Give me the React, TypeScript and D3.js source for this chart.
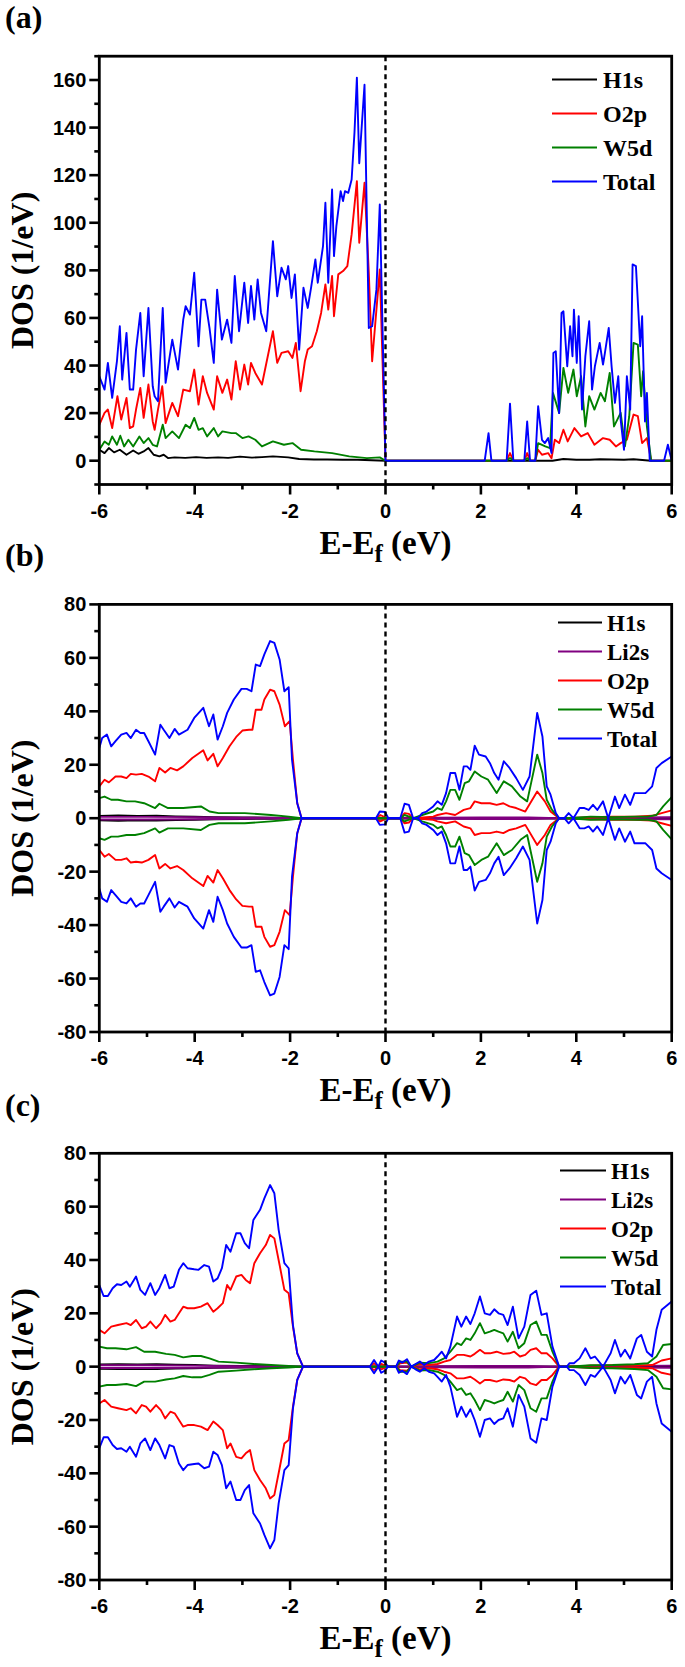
import React from 'react';
import * as d3 from 'd3';

type Pt = [number, number];

// ---------- Panel (a) data (E-Ef in eV, DOS in 1/eV) ----------
const A_H1s: Pt[] = [
  [-6.0, 4.6], [-5.89, 3.2], [-5.8, 5.3], [-5.69, 3.5], [-5.57, 4.6], [-5.43, 2.5], [-5.29, 4.3], [-5.18, 2.9],
  [-5.07, 3.9], [-4.97, 5.3], [-4.86, 2.5], [-4.74, 1.8], [-4.65, 2.5], [-4.56, 1.1], [-4.42, 1.4], [-4.2, 1.2],
  [-3.97, 1.5], [-3.75, 1.2], [-3.51, 1.4], [-3.3, 1.2], [-3.05, 1.7], [-2.8, 1.3], [-2.59, 1.5], [-2.36, 1.8],
  [-2.04, 1.4], [-1.81, 0.7], [-1.5, 0.5], [-1.22, 0.5], [-0.9, 0.4], [-0.58, 0.4], [0, 0],
  [3.5, 0], [3.73, 0.7], [4.0, 0.4], [4.28, 0.4], [4.5, 0.6], [4.74, 0.5], [5.0, 0.4], [5.2, 0.6], [5.57, 0], [6, 0],
];
const A_O2p: Pt[] = [
  [-6.0, 15.1], [-5.89, 20.1], [-5.82, 21.5], [-5.73, 13.7], [-5.62, 27.1], [-5.54, 17.3], [-5.43, 26.4], [-5.36, 13.7],
  [-5.29, 14.4], [-5.23, 21.5], [-5.14, 30.6], [-5.07, 18.0], [-4.97, 32.0], [-4.88, 16.5], [-4.84, 13.0], [-4.77, 21.5],
  [-4.68, 31.3], [-4.61, 15.8], [-4.47, 24.3], [-4.35, 18.7], [-4.24, 29.9], [-4.1, 29.2], [-4.01, 38.3], [-3.92, 23.6],
  [-3.83, 35.5], [-3.74, 28.5], [-3.6, 21.5], [-3.53, 35.5], [-3.42, 28.5], [-3.32, 34.1], [-3.23, 25.7], [-3.14, 41.8],
  [-3.05, 29.9], [-2.96, 40.4], [-2.88, 32.0], [-2.82, 41.1], [-2.73, 36.9], [-2.59, 32.0], [-2.36, 54.4], [-2.27, 41.1],
  [-2.18, 45.3], [-2.04, 46.0], [-1.95, 43.2], [-1.88, 49.5], [-1.78, 29.2], [-1.69, 41.8], [-1.63, 46.7], [-1.54, 48.1],
  [-1.44, 54.4], [-1.35, 62.1], [-1.26, 74.1], [-1.2, 63.5], [-1.12, 77.6], [-1.08, 60.7], [-0.99, 78.3], [-0.89, 79.7],
  [-0.8, 81.8], [-0.71, 95.1], [-0.6, 117.5], [-0.55, 91.6], [-0.44, 116.8], [-0.35, 79.0], [-0.28, 41.8], [-0.12, 80.4],
  [0, 0], [2.54, 0], [2.61, 3.2], [2.68, 0], [2.91, 0], [2.97, 3.2], [3.03, 0], [3.14, 0], [3.2, 4.6], [3.28, 2.5],
  [3.41, 3.2], [3.48, 1.0], [3.55, 8.8], [3.64, 7.4], [3.73, 13.0], [3.82, 8.1], [3.96, 13.7], [4.1, 10.2], [4.24, 11.6],
  [4.38, 6.7], [4.56, 9.5], [4.7, 8.8], [4.83, 6.0], [4.93, 7.4], [5.06, 8.8], [5.2, 19.4], [5.29, 18.7], [5.38, 7.4],
  [5.48, 9.5], [5.57, 0], [6, 0],
];
const A_W5d: Pt[] = [
  [-6.0, 4.6], [-5.89, 8.1], [-5.8, 6.7], [-5.73, 10.2], [-5.63, 6.7], [-5.56, 10.5], [-5.48, 6.0], [-5.39, 8.8],
  [-5.29, 6.0], [-5.16, 10.2], [-5.07, 7.4], [-4.97, 9.5], [-4.88, 6.7], [-4.79, 6.0], [-4.67, 15.1], [-4.61, 9.5],
  [-4.47, 12.3], [-4.33, 9.5], [-4.19, 15.1], [-4.1, 13.7], [-4.01, 18.0], [-3.92, 13.0], [-3.83, 13.7], [-3.74, 10.2],
  [-3.6, 13.7], [-3.51, 10.2], [-3.42, 12.3], [-3.23, 11.6], [-3.14, 11.6], [-3.0, 9.5], [-2.87, 10.2], [-2.73, 8.8],
  [-2.59, 6.0], [-2.36, 8.1], [-2.13, 6.7], [-1.95, 7.4], [-1.77, 4.6], [-1.49, 3.9], [-1.12, 3.2], [-0.76, 1.8],
  [-0.39, 1.1], [-0.12, 1.4], [0, 0], [2.54, 0], [2.61, 1.1], [2.68, 0], [2.91, 0], [2.97, 1.1], [3.03, 0], [3.14, 0],
  [3.2, 7.4], [3.35, 6.0], [3.45, 5.3], [3.51, 28.5], [3.64, 20.1], [3.73, 39.0], [3.83, 28.5], [3.94, 38.3],
  [4.01, 27.1], [4.1, 35.5], [4.19, 14.4], [4.27, 27.1], [4.38, 21.5], [4.51, 28.5], [4.6, 25.0], [4.7, 36.9],
  [4.79, 14.4], [4.93, 20.1], [5.02, 6.0], [5.11, 18.7], [5.2, 49.5], [5.29, 48.8], [5.36, 27.1], [5.4, 37.6],
  [5.48, 14.4], [5.57, 0], [6, 0],
];
const A_Total: Pt[] = [
  [-6.0, 35.5], [-5.89, 29.9], [-5.82, 41.1], [-5.73, 26.4], [-5.63, 41.8], [-5.57, 56.5], [-5.52, 34.1], [-5.43, 53.7],
  [-5.36, 29.9], [-5.29, 29.9], [-5.23, 46.7], [-5.14, 62.1], [-5.07, 35.5], [-4.97, 64.2], [-4.88, 31.3], [-4.84, 27.1],
  [-4.77, 25.0], [-4.67, 64.2], [-4.61, 32.7], [-4.47, 50.9], [-4.35, 38.3], [-4.24, 59.3], [-4.19, 64.9], [-4.1, 61.4],
  [-4.01, 79.0], [-3.92, 48.1], [-3.86, 67.7], [-3.78, 67.7], [-3.69, 55.8], [-3.6, 41.1], [-3.53, 71.9], [-3.43, 50.9],
  [-3.32, 59.3], [-3.23, 49.5], [-3.16, 77.6], [-3.07, 54.4], [-2.96, 74.8], [-2.88, 57.9], [-2.82, 73.4], [-2.75, 59.3],
  [-2.68, 76.2], [-2.61, 62.1], [-2.5, 54.4], [-2.36, 92.3], [-2.27, 69.1], [-2.18, 81.1], [-2.09, 76.2], [-2.04, 81.8],
  [-1.97, 68.4], [-1.9, 78.3], [-1.81, 46.7], [-1.72, 72.7], [-1.63, 64.2], [-1.56, 72.7], [-1.47, 84.6], [-1.42, 74.8],
  [-1.31, 90.2], [-1.26, 108.4], [-1.2, 74.8], [-1.12, 114.0], [-1.08, 86.0], [-1.03, 98.6], [-0.94, 113.3],
  [-0.89, 109.1], [-0.85, 113.3], [-0.78, 112.6], [-0.71, 118.2], [-0.65, 138], [-0.6, 161], [-0.55, 125],
  [-0.44, 158], [-0.35, 55.8], [-0.28, 56.5], [-0.19, 72], [-0.12, 107.7], [0, 0],
  [2.08, 0], [2.16, 11.6], [2.22, 0], [2.54, 0], [2.61, 24], [2.68, 0], [2.91, 0], [2.97, 16.5], [3.03, 0], [3.14, 0],
  [3.2, 22.9], [3.28, 8.8], [3.34, 7.4], [3.41, 9.5], [3.48, 3.2], [3.52, 45.3], [3.57, 46.0], [3.64, 20],
  [3.69, 62.1], [3.73, 62.8], [3.81, 39.7], [3.87, 56.5], [3.92, 43.9], [3.95, 63.5], [4.01, 41.1], [4.05, 60.7],
  [4.12, 21.5], [4.19, 43.9], [4.27, 58.6], [4.33, 29.9], [4.39, 39.7], [4.49, 49.5], [4.56, 40.4], [4.6, 45.3],
  [4.68, 55.8], [4.74, 39.7], [4.81, 24.3], [4.88, 35.5], [4.93, 17.3], [5.0, 4.6], [5.06, 35.5], [5.13, 21.5],
  [5.18, 82.5], [5.25, 81.8], [5.34, 48.1], [5.38, 60.7], [5.44, 16.5], [5.48, 28.5], [5.54, 0], [5.84, 0],
  [5.92, 6.7], [6.0, 0],
];

// ---------- Panel (b) data: spin-up values; spin-down is drawn as the mirror ----------
const B_H1s: Pt[] = [
  [-6, 0.8], [-5.6, 1.0], [-5.2, 0.8], [-4.8, 0.9], [-4.4, 0.7], [-4.0, 0.6], [-3.6, 0.4], [-3.0, 0.3], [-2.4, 0.2],
  [-1.76, 0], [6, 0],
];
const B_Li2s: Pt[] = [
  [-6, 0.5], [-5, 0.5], [-4, 0.4], [-3, 0.2], [-2, 0.1], [-1.76, 0], [0.6, 0], [1, 0.2], [2, 0.3], [3, 0.3],
  [3.64, 0], [4, 0.2], [5, 0.3], [6, 0.4],
];
const B_O2p: Pt[] = [
  [-6.0, 11.9], [-5.89, 14.4], [-5.8, 13.4], [-5.66, 15.6], [-5.54, 15.6], [-5.43, 15.0], [-5.34, 16.6], [-5.23, 16.3],
  [-5.11, 16.6], [-4.97, 15.6], [-4.83, 13.8], [-4.74, 18.8], [-4.62, 17.1], [-4.51, 18.8], [-4.37, 17.9], [-4.24, 19.4],
  [-4.05, 22.5], [-3.82, 25.4], [-3.73, 21.6], [-3.61, 24.1], [-3.52, 19.4], [-3.41, 22.5], [-3.27, 26.9], [-3.13, 30.4],
  [-3.0, 32.8], [-2.86, 33.1], [-2.79, 33.1], [-2.72, 40.6], [-2.6, 40.6], [-2.54, 44.4], [-2.42, 48.1], [-2.33, 47.5],
  [-2.22, 42.5], [-2.11, 34.4], [-2.01, 36.3], [-1.94, 21.9], [-1.85, 5.6], [-1.76, 0], [-0.2, 0], [-0.11, 1.2],
  [0.03, 0], [0.31, 0], [0.4, 1.9], [0.49, 1.6], [0.58, 0], [1.0, 0.6], [1.09, 1.2], [1.27, 1.9], [1.46, 1.2],
  [1.64, 3.1], [1.78, 3.8], [1.87, 6.3], [2.01, 5.6], [2.19, 5.6], [2.33, 5.0], [2.47, 5.6], [2.6, 4.4], [2.74, 3.8],
  [2.93, 2.5], [3.18, 10.0], [3.34, 6.3], [3.46, 2.5], [3.64, 0], [3.84, 0], [4.3, 0.4], [4.76, 0.6], [5.22, 0.6],
  [5.59, 0.9], [5.79, 1.9], [6.0, 2.9],
];
const B_W5d: Pt[] = [
  [-6.0, 7.5], [-5.89, 8.1], [-5.75, 6.9], [-5.61, 6.9], [-5.43, 6.3], [-5.25, 6.3], [-5.06, 5.6], [-4.83, 3.8],
  [-4.74, 5.4], [-4.56, 3.8], [-4.24, 3.8], [-3.87, 4.4], [-3.69, 2.5], [-3.5, 1.9], [-2.95, 1.9], [-2.4, 1.2],
  [-2.03, 0.6], [-1.76, 0], [0.31, 0], [0.4, 1.2], [0.58, 0], [0.77, 1.2], [1.0, 2.5], [1.09, 3.8], [1.18, 3.1],
  [1.27, 6.3], [1.36, 10.6], [1.46, 10.6], [1.55, 6.9], [1.66, 13.1], [1.75, 13.8], [1.87, 17.5], [2.01, 15.6],
  [2.15, 14.4], [2.33, 9.4], [2.48, 13.8], [2.65, 11.9], [2.83, 8.1], [2.97, 6.3], [3.18, 23.8], [3.29, 16.9],
  [3.38, 6.9], [3.49, 3.1], [3.64, 0], [3.84, 0], [4.3, 0.6], [4.76, 0.4], [5.22, 0.6], [5.5, 0.6], [5.68, 1.2],
  [5.82, 4.4], [6.0, 7.9],
];
const B_Total: Pt[] = [
  [-6.0, 26.3], [-5.94, 30.0], [-5.84, 31.3], [-5.75, 26.9], [-5.66, 28.8], [-5.54, 31.3], [-5.43, 31.9], [-5.34, 30.0],
  [-5.23, 33.1], [-5.14, 31.9], [-5.06, 31.9], [-4.97, 28.8], [-4.83, 23.8], [-4.72, 35.0], [-4.65, 33.1], [-4.53, 30.0],
  [-4.42, 33.4], [-4.33, 31.3], [-4.15, 33.1], [-4.01, 37.5], [-3.82, 41.3], [-3.7, 34.4], [-3.61, 38.8], [-3.52, 29.4],
  [-3.41, 34.4], [-3.32, 39.4], [-3.18, 44.4], [-3.02, 48.4], [-2.91, 48.4], [-2.81, 47.5], [-2.72, 57.5], [-2.63, 56.9],
  [-2.54, 61.3], [-2.42, 66.3], [-2.33, 65.6], [-2.22, 59.4], [-2.12, 47.5], [-2.03, 49.0], [-1.96, 21.9], [-1.85, 5.6],
  [-1.76, 0], [-0.2, 0], [-0.12, 2.5], [-0.01, 2.3], [0.06, 0], [0.31, 0], [0.4, 5.4], [0.49, 5.0], [0.58, 0],
  [0.68, 0], [0.77, 1.9], [0.86, 2.5], [1.0, 4.4], [1.09, 6.3], [1.18, 5.0], [1.27, 9.4], [1.36, 16.9], [1.46, 16.9],
  [1.55, 10.6], [1.64, 19.4], [1.71, 19.4], [1.78, 18.1], [1.87, 27.1], [1.96, 23.8], [2.1, 23.1], [2.19, 20.6],
  [2.28, 16.9], [2.37, 14.4], [2.48, 21.3], [2.6, 18.8], [2.74, 15.0], [2.88, 10.6], [3.02, 15.6], [3.18, 39.4],
  [3.29, 30.6], [3.38, 11.9], [3.46, 8.8], [3.57, 1.9], [3.64, 0], [3.75, 0], [3.84, 1.9], [3.94, 0], [4.07, 3.8],
  [4.17, 3.8], [4.26, 3.1], [4.35, 5.0], [4.44, 3.1], [4.56, 6.3], [4.67, 0], [4.81, 8.1], [4.9, 3.8], [5.02, 8.8],
  [5.13, 5.0], [5.22, 9.4], [5.33, 9.4], [5.45, 9.4], [5.59, 11.9], [5.68, 18.8], [5.79, 20.6], [6.0, 23.1],
];

// ---------- Panel (c) data: spin-up values; spin-down is drawn as the mirror ----------
const C_H1s: Pt[] = [
  [-6, 0.8], [-5.6, 0.9], [-5.2, 0.8], [-4.8, 0.9], [-4.4, 0.7], [-4.0, 0.6], [-3.6, 0.4], [-3.0, 0.3], [-2.4, 0.2],
  [-1.73, 0], [6, 0],
];
const C_Li2s: Pt[] = [
  [-6, 0.5], [-5, 0.5], [-4, 0.4], [-3, 0.2], [-2, 0.1], [-1.73, 0], [0.6, 0], [1, 0.2], [2, 0.3], [3, 0.3],
  [3.64, 0], [4, 0.2], [5, 0.3], [6, 0.4],
];
const C_O2p: Pt[] = [
  [-6.0, 13.8], [-5.89, 12.5], [-5.75, 15.0], [-5.61, 15.6], [-5.43, 16.3], [-5.34, 15.6], [-5.23, 17.5], [-5.11, 14.4],
  [-5.02, 15.0], [-4.93, 16.9], [-4.81, 14.4], [-4.71, 16.3], [-4.62, 19.4], [-4.51, 16.9], [-4.42, 17.5], [-4.33, 20.0],
  [-4.24, 22.5], [-4.15, 21.9], [-4.01, 21.9], [-3.87, 22.5], [-3.73, 23.8], [-3.61, 20.6], [-3.52, 21.9], [-3.41, 23.8],
  [-3.32, 30.6], [-3.25, 28.8], [-3.13, 33.8], [-3.02, 34.4], [-2.93, 32.5], [-2.84, 31.3], [-2.75, 38.8], [-2.63, 42.5],
  [-2.51, 45.6], [-2.42, 49.4], [-2.33, 48.1], [-2.22, 38.1], [-2.12, 28.8], [-2.03, 27.5], [-1.94, 15.0], [-1.85, 5.0],
  [-1.73, 0], [-0.33, 0], [-0.24, 1.3], [-0.15, 0], [-0.09, 1.0], [0.05, 0], [0.22, 0], [0.31, 1.3], [0.45, 1.5],
  [0.54, 0], [0.72, 1.0], [0.91, 0.6], [1.09, 1.0], [1.23, 1.9], [1.36, 2.5], [1.5, 4.4], [1.64, 4.4], [1.78, 3.8],
  [1.87, 4.8], [1.98, 6.3], [2.08, 5.0], [2.19, 5.0], [2.33, 5.6], [2.47, 4.8], [2.6, 5.0], [2.7, 5.6], [2.82, 3.8],
  [2.93, 4.4], [3.04, 6.3], [3.16, 6.9], [3.27, 5.0], [3.38, 5.0], [3.5, 3.1], [3.64, 0], [3.84, 0], [4.3, 0.4],
  [4.76, 0.5], [5.22, 0.4], [5.59, 0.6], [5.79, 2.3], [6.0, 3.1],
];
const C_W5d: Pt[] = [
  [-6.0, 7.5], [-5.84, 6.9], [-5.66, 6.9], [-5.43, 6.5], [-5.23, 7.3], [-5.06, 5.6], [-4.83, 5.6], [-4.6, 4.8],
  [-4.42, 4.4], [-4.24, 3.5], [-4.05, 4.0], [-3.87, 4.0], [-3.69, 3.1], [-3.5, 1.9], [-3.13, 1.5], [-2.77, 1.0],
  [-2.4, 0.6], [-2.03, 0.3], [-1.73, 0], [0.22, 0], [0.31, 1.9], [0.45, 1.9], [0.54, 0], [0.72, 1.5], [0.91, 1.3],
  [1.09, 1.9], [1.23, 3.1], [1.36, 5.6], [1.5, 8.8], [1.59, 8.1], [1.69, 10.6], [1.78, 10.0], [1.87, 12.5],
  [1.98, 16.3], [2.08, 12.5], [2.19, 13.1], [2.28, 13.8], [2.37, 13.1], [2.47, 12.5], [2.56, 9.4], [2.67, 13.1],
  [2.79, 6.9], [2.91, 8.8], [3.04, 15.6], [3.16, 16.9], [3.27, 11.9], [3.38, 11.9], [3.5, 5.6], [3.64, 0], [3.84, 0],
  [4.3, 0.5], [4.76, 0.6], [5.22, 0.9], [5.5, 1.3], [5.68, 3.8], [5.82, 8.1], [6.0, 8.5],
];
const C_Total: Pt[] = [
  [-6.0, 30.6], [-5.91, 26.5], [-5.82, 26.5], [-5.72, 29.4], [-5.63, 30.9], [-5.54, 30.6], [-5.43, 31.9], [-5.36, 30.0],
  [-5.23, 33.8], [-5.14, 28.8], [-5.04, 26.9], [-4.93, 31.3], [-4.83, 26.9], [-4.74, 29.4], [-4.62, 34.4], [-4.53, 29.4],
  [-4.44, 30.0], [-4.33, 36.3], [-4.24, 38.8], [-4.15, 36.9], [-4.01, 36.5], [-3.92, 36.3], [-3.8, 38.1], [-3.7, 37.5],
  [-3.61, 31.9], [-3.52, 33.1], [-3.43, 36.9], [-3.34, 45.6], [-3.25, 43.1], [-3.13, 50.0], [-3.04, 50.0], [-2.95, 46.3],
  [-2.86, 44.4], [-2.77, 55.0], [-2.63, 58.8], [-2.54, 63.1], [-2.42, 68.1], [-2.33, 65.0], [-2.24, 51.3], [-2.12, 38.8],
  [-2.03, 36.9], [-1.94, 15.6], [-1.85, 5.0], [-1.73, 0], [-0.33, 0], [-0.24, 2.5], [-0.15, 0], [-0.09, 2.3],
  [-0.01, 1.5], [0.05, 0], [0.22, 0], [0.28, 2.3], [0.35, 1.5], [0.45, 2.8], [0.54, 0], [0.63, 1.0], [0.72, 1.9],
  [0.81, 0.6], [0.91, 1.9], [1.02, 2.5], [1.09, 3.8], [1.18, 5.6], [1.27, 3.1], [1.36, 7.5], [1.5, 18.8], [1.59, 15.0],
  [1.69, 18.8], [1.78, 16.0], [1.87, 20.0], [1.98, 26.3], [2.08, 20.0], [2.19, 19.4], [2.28, 21.5], [2.37, 20.0],
  [2.47, 19.4], [2.56, 15.6], [2.67, 22.5], [2.79, 10.6], [2.91, 15.0], [3.04, 26.9], [3.16, 28.5], [3.27, 19.4],
  [3.38, 20.0], [3.5, 7.5], [3.64, 0], [3.8, 0], [3.86, 1.3], [3.95, 1.3], [4.07, 3.1], [4.19, 6.9], [4.3, 3.1],
  [4.39, 3.8], [4.56, 0], [4.72, 5.0], [4.81, 10.0], [4.93, 3.8], [5.02, 6.3], [5.13, 3.1], [5.27, 10.6],
  [5.36, 11.9], [5.48, 5.6], [5.59, 3.8], [5.68, 13.8], [5.79, 21.3], [6.0, 24.4],
];

const X_MAJOR = [-6, -4, -2, 0, 2, 4, 6];
const X_MINOR = [-5, -3, -1, 1, 3, 5];
const A_Y_MAJOR = [0, 20, 40, 60, 80, 100, 120, 140, 160];
const A_Y_MINOR = [-10, 10, 30, 50, 70, 90, 110, 130, 150, 170];
const BC_Y_MAJOR = [-80, -60, -40, -20, 0, 20, 40, 60, 80];
const BC_Y_MINOR = [-70, -50, -30, -10, 10, 30, 50, 70];

const COLORS: Record<string, string> = {
  H1s: '#000000',
  Li2s: '#800080',
  O2p: '#ff0000',
  W5d: '#008000',
  Total: '#0000ff',
};

interface Series { name: string; data: Pt[]; mirror: boolean; }
interface PanelCfg {
  label: string;
  labelY: number;
  top: number;
  bottom: number;
  yDomain: [number, number];
  yMajor: number[];
  yMinor: number[];
  series: Series[];
  legendY0: number;
  legendDy: number;
  legendLine: [number, number];
  legendTextX: number;
  legendFont: number;
}

const X_LEFT = 99.3;
const X_RIGHT = 671.7;
const SERIF = '"Liberation Serif", "Times New Roman", Times, serif';
const SANS = '"Liberation Sans", Arial, Helvetica, sans-serif';

const PANELS: PanelCfg[] = [
  {
    label: '(a)', labelY: 28, top: 56.2, bottom: 484.5, yDomain: [-10, 170],
    yMajor: A_Y_MAJOR, yMinor: A_Y_MINOR,
    series: [
      { name: 'H1s', data: A_H1s, mirror: false },
      { name: 'O2p', data: A_O2p, mirror: false },
      { name: 'W5d', data: A_W5d, mirror: false },
      { name: 'Total', data: A_Total, mirror: false },
    ],
    legendY0: 79.5, legendDy: 34, legendLine: [552, 597], legendTextX: 603, legendFont: 24,
  },
  {
    label: '(b)', labelY: 566, top: 604.4, bottom: 1032, yDomain: [-80, 80],
    yMajor: BC_Y_MAJOR, yMinor: BC_Y_MINOR,
    series: [
      { name: 'H1s', data: B_H1s, mirror: true },
      { name: 'Li2s', data: B_Li2s, mirror: true },
      { name: 'O2p', data: B_O2p, mirror: true },
      { name: 'W5d', data: B_W5d, mirror: true },
      { name: 'Total', data: B_Total, mirror: true },
    ],
    legendY0: 622.5, legendDy: 29, legendLine: [558, 602], legendTextX: 607, legendFont: 23,
  },
  {
    label: '(c)', labelY: 1116, top: 1153.3, bottom: 1580, yDomain: [-80, 80],
    yMajor: BC_Y_MAJOR, yMinor: BC_Y_MINOR,
    series: [
      { name: 'H1s', data: C_H1s, mirror: true },
      { name: 'Li2s', data: C_Li2s, mirror: true },
      { name: 'O2p', data: C_O2p, mirror: true },
      { name: 'W5d', data: C_W5d, mirror: true },
      { name: 'Total', data: C_Total, mirror: true },
    ],
    legendY0: 1170.5, legendDy: 29, legendLine: [560, 606], legendTextX: 611, legendFont: 23,
  },
];

function Panel({ cfg }: { cfg: PanelCfg }) {
  const x = d3.scaleLinear().domain([-6, 6]).range([X_LEFT, X_RIGHT]);
  const y = d3.scaleLinear().domain(cfg.yDomain).range([cfg.bottom, cfg.top]);
  const line = d3.line<Pt>().x((d) => x(d[0])).y((d) => y(d[1]));
  const cy = (cfg.top + cfg.bottom) / 2;

  const paths: React.ReactNode[] = [];
  cfg.series.forEach((s) => {
    paths.push(
      <path key={s.name + 'u'} d={line(s.data) || ''} fill="none" stroke={COLORS[s.name]}
        strokeWidth={1.9} strokeLinejoin="round" />
    );
    if (s.mirror) {
      const down: Pt[] = s.data.map((d) => [d[0], -d[1]]);
      paths.push(
        <path key={s.name + 'd'} d={line(down) || ''} fill="none" stroke={COLORS[s.name]}
          strokeWidth={1.9} strokeLinejoin="round" />
      );
    }
  });

  return (
    <g>
      <text x={5} y={cfg.labelY} fontFamily={SERIF} fontWeight="bold" fontSize={32}>{cfg.label}</text>
      {paths}
      <line x1={x(0)} x2={x(0)} y1={cfg.top} y2={cfg.bottom} stroke="#000" strokeWidth={2.4}
        strokeDasharray="5,4" />
      <rect x={X_LEFT} y={cfg.top} width={X_RIGHT - X_LEFT} height={cfg.bottom - cfg.top}
        fill="none" stroke="#000" strokeWidth={2.8} />
      {/* x ticks */}
      {X_MAJOR.map((t) => (
        <g key={'xM' + t}>
          <line x1={x(t)} x2={x(t)} y1={cfg.bottom} y2={cfg.bottom + 10} stroke="#000" strokeWidth={2.6} />
          <text x={x(t)} y={cfg.bottom + 33} textAnchor="middle" fontFamily={SANS} fontWeight="bold"
            fontSize={20}>{String(t)}</text>
        </g>
      ))}
      {X_MINOR.map((t) => (
        <line key={'xm' + t} x1={x(t)} x2={x(t)} y1={cfg.bottom} y2={cfg.bottom + 5} stroke="#000" strokeWidth={2.6} />
      ))}
      {/* y ticks */}
      {cfg.yMajor.map((t) => (
        <g key={'yM' + t}>
          <line x1={X_LEFT - 10} x2={X_LEFT} y1={y(t)} y2={y(t)} stroke="#000" strokeWidth={2.6} />
          <text x={X_LEFT - 13} y={y(t) + 7} textAnchor="end" fontFamily={SANS} fontWeight="bold"
            fontSize={20}>{String(t)}</text>
        </g>
      ))}
      {cfg.yMinor.map((t) => (
        <line key={'ym' + t} x1={X_LEFT - 5} x2={X_LEFT} y1={y(t)} y2={y(t)} stroke="#000" strokeWidth={2.6} />
      ))}
      {/* axis titles */}
      <text x={x(0)} y={cfg.bottom + 69} textAnchor="middle" fontFamily={SERIF} fontWeight="bold" fontSize={33}>
        <tspan>E-E</tspan>
        <tspan fontSize={25} dy={8}>f</tspan>
        <tspan dy={-8}> (eV)</tspan>
      </text>
      <text transform={`translate(33, ${cy}) rotate(-90)`} textAnchor="middle" fontFamily={SERIF}
        fontWeight="bold" fontSize={32}>DOS (1/eV)</text>
      {/* legend */}
      {cfg.series.map((s, i) => {
        const ly = cfg.legendY0 + i * cfg.legendDy;
        return (
          <g key={'lg' + s.name}>
            <line x1={cfg.legendLine[0]} x2={cfg.legendLine[1]} y1={ly} y2={ly} stroke={COLORS[s.name]}
              strokeWidth={2} />
            <text x={cfg.legendTextX} y={ly + 8} fontFamily={SERIF} fontWeight="bold"
              fontSize={cfg.legendFont}>{s.name}</text>
          </g>
        );
      })}
    </g>
  );
}

export default function App() {
  return (
    <svg width={685} height={1667} viewBox="0 0 685 1667"
      style={{ position: 'absolute', left: 0, top: 0, background: '#fff' }}>
      <rect x={0} y={0} width={685} height={1667} fill="#fff" />
      {PANELS.map((p) => <Panel key={p.label} cfg={p} />)}
    </svg>
  );
}
